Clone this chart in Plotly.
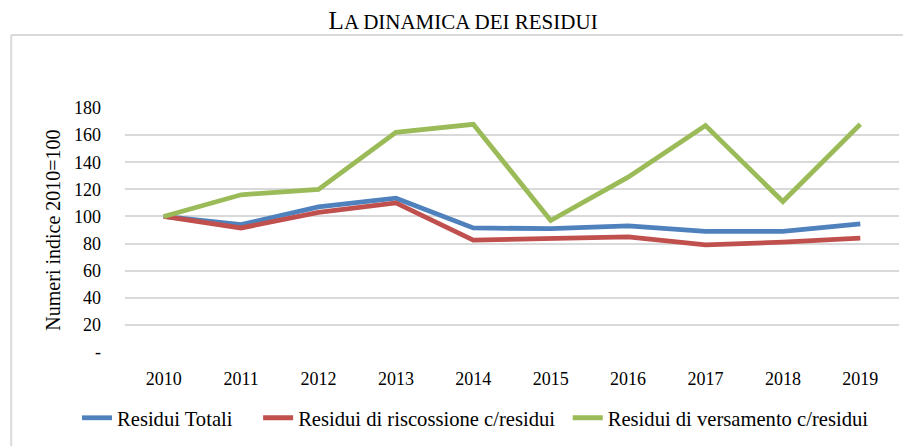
import plotly.graph_objects as go

years = ["2010", "2011", "2012", "2013", "2014", "2015", "2016", "2017", "2018", "2019"]
residui_totali = [100, 94, 107, 113.5, 91.5, 91, 93, 89, 89, 94.5]
residui_riscossione = [100, 91.5, 103, 110, 82.5, 84, 85, 79, 81, 84]
residui_versamento = [100, 116, 120, 162, 168, 97, 129, 167, 111, 168]
y_ticks = [0, 20, 40, 60, 80, 100, 120, 140, 160, 180]
y_ticktext = ["-", "20", "40", "60", "80", "100", "120", "140", "160", "180"]

font = "Liberation Serif"

fig = go.Figure()
series = [
    ("Residui Totali", residui_totali, "#4F81BD", "legend"),
    ("Residui di riscossione c/residui", residui_riscossione, "#C0504D", "legend2"),
    ("Residui di versamento c/residui", residui_versamento, "#9BBB59", "legend3"),
]
for name, vals, col, leg in series:
    fig.add_trace(go.Scatter(x=years, y=vals, name=name, mode="lines", legend=leg,
                             line=dict(color=col, width=4.8)))

legend_common = dict(orientation="h", y=-0.27, yanchor="middle", xanchor="left",
                     font=dict(family=font, size=20.6), itemwidth=30,
                     bgcolor="rgba(0,0,0,0)")

# page body has an 8px default margin; figure is sized to fill the rest of the window
fig.update_layout(
    width=903, height=438,
    paper_bgcolor="white", plot_bgcolor="white",
    margin=dict(l=117, r=12, t=100, b=94, autoexpand=False),
    font=dict(family=font, size=18, color="#000000"),
    title=dict(
        text="L<span style='font-size:21px'>A DINAMICA DEI RESIDUI</span>",
        x=0.504, xanchor="center", y=0.973, yanchor="middle",
        font=dict(family=font, size=25, color="#000000"),
    ),
    showlegend=True,
    legend=dict(x=-0.062, **legend_common),
    legend2=dict(x=0.172, **legend_common),
    legend3=dict(x=0.572, **legend_common),
    shapes=[
        dict(type="line", xref="paper", yref="paper", x0=-0.147, x1=1.02, y0=1.299, y1=1.299,
             line=dict(color="#D9D9D9", width=2)),
        dict(type="line", xref="paper", yref="paper", x0=-0.147, x1=-0.147, y0=1.299, y1=-0.4,
             line=dict(color="#D9D9D9", width=2)),
    ],
)
fig.update_xaxes(type="category", range=[-0.5, 9.5], showgrid=False, showline=False,
                 zeroline=False, ticks="", ticklabelstandoff=14,
                 tickfont=dict(family=font, size=18))
fig.update_yaxes(range=[0, 180], tickvals=y_ticks, ticktext=y_ticktext,
                 showgrid=True, gridcolor="#D9D9D9", gridwidth=2, zeroline=False,
                 showline=False, ticks="", ticklabelstandoff=23,
                 title=dict(text="Numeri indice 2010=100", standoff=8,
                            font=dict(family=font, size=20)),
                 tickfont=dict(family=font, size=18))

fig.write_html("out.html")
